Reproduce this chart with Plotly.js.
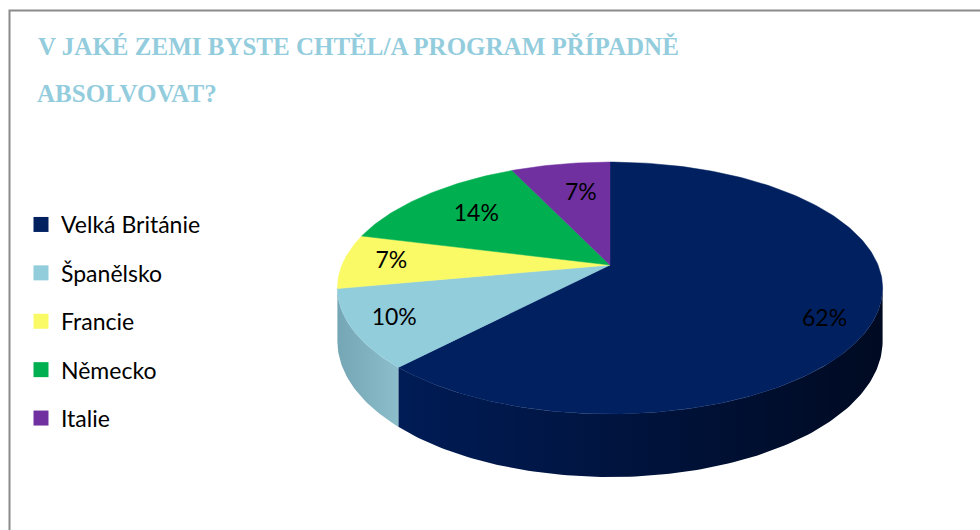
<!DOCTYPE html>
<html><head><meta charset="utf-8">
<script src="https://cdn.plot.ly/plotly-3.0.1.min.js"></script>
<style>html,body{margin:0;padding:0;background:#fff}#chart{width:980px;height:530px}</style>
</head><body><div id="chart"></div>
<script>
// ---- data ----
const countries = ['Velká Británie', 'Španělsko', 'Francie', 'Německo', 'Italie'];
const shares = [62, 10, 7, 14, 7];
const titleLine1 = 'V JAKÉ ZEMI BYSTE CHTĚL/A PROGRAM PŘÍPADNĚ';
const titleLine2 = 'ABSOLVOVAT?';

// ---- styles ----
const topColors = ['#002060', '#92CDDC', '#FAFA66', '#00B050', '#7030A0'];
const sideColors = [['#001c56', '#000a22'], ['#74a6b5', '#8cbdca'], ['#c8c840', '#dede50'], ['#008a3e', '#009a45'], ['#55207e', '#5f2890']];
const labelStyle = [[0.85, 8], [0.85, 0], [0.82, 0], [0.7, 0], [0.66, 2]]; // [radius fraction, angle shift]

// ---- 3D pie projection (perspective) ----
const CX = 610, CY = 265, FX = 1466, FY = 666, DIST = 5.47, DEPTH = 281.6;
function proj(r, a) {
  const t = a * Math.PI / 180;
  const u = r * Math.sin(t), v = -r * Math.cos(t);
  const z = DIST - v;
  return {x: CX + FX * u / z, y: CY + FY * v / z, drop: DEPTH / z};
}
// visible (front-facing) part of the side wall: between the silhouette tangent points
const silA = Math.acos(-1 / DIST) * 180 / Math.PI;
const sideFrom = silA, sideTo = 360 - silA;

const total = shares.reduce((s, v) => s + v, 0);
const starts = [], ends = [];
let acc = 0;
shares.forEach(v => { starts.push(acc / total * 360); acc += v; ends.push(acc / total * 360); });

function angleList(a1, a2) {
  const angs = [];
  for (let a = a1; a < a2; a += 1) angs.push(a);
  angs.push(a2);
  return angs;
}

const traces = [];
// side walls (front part only)
shares.forEach((v, i) => {
  const a1 = Math.max(starts[i], sideFrom), a2 = Math.min(ends[i], sideTo);
  if (a2 - a1 < 0.5) return;
  const angs = angleList(a1, a2);
  const up = angs.map(a => proj(1, a));
  const lo = up.slice().reverse();
  traces.push({
    type: 'scatter', mode: 'lines',
    x: up.map(p => p.x).concat(lo.map(p => p.x)),
    y: up.map(p => p.y).concat(lo.map(p => p.y + p.drop)),
    fill: 'toself', line: {width: 0, color: sideColors[i][0]},
    fillcolor: sideColors[i][0],
    fillgradient: {type: 'horizontal', colorscale: [[0, sideColors[i][0]], [1, sideColors[i][1]]]},
    hoverinfo: 'skip', showlegend: false
  });
});
// top faces
shares.forEach((v, i) => {
  const pts = angleList(starts[i], ends[i]).map(a => proj(1, a));
  traces.push({
    type: 'scatter', mode: 'lines',
    x: [CX].concat(pts.map(p => p.x), [CX]),
    y: [CY].concat(pts.map(p => p.y), [CY]),
    fill: 'toself', fillcolor: topColors[i], line: {width: 0.5, color: topColors[i]},
    hoverinfo: 'skip', showlegend: false
  });
});
// percentage labels
const lx = [], ly = [], lt = [];
shares.forEach((v, i) => {
  const mid = (starts[i] + ends[i]) / 2 + labelStyle[i][1];
  const p = proj(labelStyle[i][0], mid);
  lx.push(p.x); ly.push(p.y); lt.push(Math.round(v / total * 100) + '%');
});
traces.push({
  type: 'scatter', mode: 'text', x: lx, y: ly, text: lt, textposition: 'middle center',
  textfont: {family: 'Lato, Carlito, sans-serif', size: 23, color: '#000'},
  hoverinfo: 'skip', showlegend: false
});
// legend entries
countries.forEach((c, i) => {
  traces.push({
    type: 'scatter', mode: 'markers', x: [null], y: [null], name: c, legendgroup: 'g' + i,
    marker: {symbol: 'square', size: 15, color: topColors[i]}, showlegend: true
  });
});

const titleFont = {family: 'Liberation Serif, serif', size: 25, color: '#93CDDD', weight: 'bold'};
const layout = {
  width: 980, height: 530, margin: {l: 0, r: 0, t: 0, b: 0},
  paper_bgcolor: '#fff', plot_bgcolor: '#fff',
  xaxis: {range: [0, 980], visible: false, fixedrange: true},
  yaxis: {range: [530, 0], visible: false, fixedrange: true},
  title: {text: titleLine1, x: 38 / 980, xanchor: 'left', xref: 'container',
          y: 1 - 37 / 530, yref: 'container', yanchor: 'top', font: titleFont},
  annotations: [{text: titleLine2, xref: 'paper', x: 35 / 980, xanchor: 'left',
                 yref: 'y', y: 93, yanchor: 'middle', showarrow: false, font: titleFont}],
  showlegend: true,
  legend: {x: 21 / 980, xanchor: 'left', y: 1 - 203 / 530, yanchor: 'top',
           font: {family: 'Lato, Carlito, sans-serif', size: 23, color: '#000'},
           tracegroupgap: 15.5, itemwidth: 30, bgcolor: 'rgba(0,0,0,0)', traceorder: 'grouped'},
  shapes: [{type: 'rect', xref: 'x', yref: 'y', x0: 9.5, x1: 1000, y0: 10.5, y1: 560,
            line: {color: '#8a8a8a', width: 2}, fillcolor: 'rgba(0,0,0,0)', layer: 'below'}]
};
Plotly.newPlot('chart', traces, layout, {displayModeBar: false, staticPlot: true});
</script></body></html>
